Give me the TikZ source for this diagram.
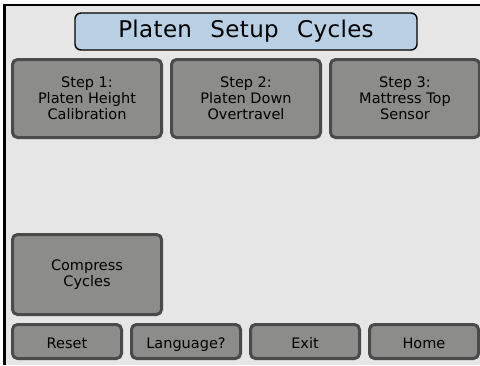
\documentclass[tikz,border=0pt]{standalone}
\usepackage{fontspec}
\setmainfont{DejaVu Sans}
\newfontfamily\titlefont[LetterSpace=1.5,WordSpace=2.4]{DejaVu Sans}
\usetikzlibrary{positioning}
\definecolor{panelbg}{RGB}{230,230,230}
\definecolor{keyfill}{RGB}{140,141,138}
\definecolor{keyline}{RGB}{74,74,74}
\definecolor{headfill}{RGB}{185,207,227}

\begin{document}
\begin{tikzpicture}[x=1pt,y=-1pt,node distance=7pt and 7pt,
  key/.style={draw=keyline,fill=keyfill,line width=3pt,rounded corners=5pt,
    align=center,font=\fontsize{14.5}{16}\selectfont},
  bigkey/.style={key,minimum width=149pt,minimum height=78pt},
  smallkey/.style={key,minimum width=109pt,minimum height=34pt,text height=15pt,text depth=1pt},
  head/.style={draw=black,fill=headfill,line width=1.4pt,rounded corners=6pt,
    minimum width=342pt,minimum height=37pt,font=\titlefont\fontsize{23}{26}\selectfont}]

  \useasboundingbox (0,0) rectangle (480,365);
  \fill[white] (0,0) rectangle (480,365);
  \fill[panelbg] (4.5,5) rectangle (480,365);
  \draw[line width=2.6pt] (4.5,365) -- (4.5,5) -- (480,5);

  \node[head] (title) at (246,31.5) {Platen Setup Cycles};

  \node[bigkey] (step1) at (87,98.5) {Step 1:\\Platen Height\\Calibration};
  \node[bigkey] (step2) [right=of step1] {Step 2:\\Platen Down\\Overtravel};
  \node[bigkey] (step3) [right=of step2] {Step 3:\\Mattress Top\\Sensor};

  \node[bigkey,minimum height=80pt] (compress) at (87,274.5) {Compress\\Cycles};

  \node[smallkey] (reset) at (67,341.5) {Reset};
  \node[smallkey] (lang) [right=of reset] {Language?};
  \node[smallkey] (exit) [right=of lang] {Exit};
  \node[smallkey] (home) [right=of exit] {Home};
\end{tikzpicture}
\end{document}
